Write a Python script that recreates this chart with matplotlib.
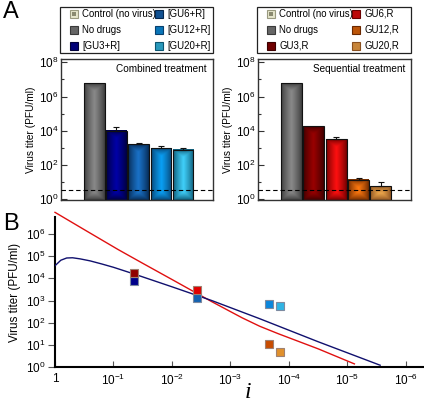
import numpy as np
import matplotlib
matplotlib.use("Agg")
import matplotlib.pyplot as plt
from matplotlib.lines import Line2D
from matplotlib.patches import Rectangle
from matplotlib.legend_handler import HandlerTuple
from matplotlib.colors import to_rgb

plt.rcParams['font.family'] = ['Liberation Sans', 'DejaVu Sans']
plt.rcParams['mathtext.fontset'] = 'custom'
plt.rcParams['mathtext.rm'] = 'Liberation Sans'
plt.rcParams['mathtext.it'] = 'Liberation Sans:italic'
plt.rcParams['mathtext.default'] = 'regular'

# ---------------- data ----------------
combined_labels = ['Control (no virus)', 'No drugs', '[GU3+R]', '[GU6+R]', '[GU12+R]', '[GU20+R]']
combined_values = [None, 6.0e6, 9.8e3, 1.66e3, 9.5e2, 7.6e2]
combined_err_top = [None, None, 1.6e4, 1.95e3, 1.26e3, 1.05e3]

sequential_labels = ['Control (no virus)', 'No drugs', 'GU3,R', 'GU6,R', 'GU12,R', 'GU20,R']
sequential_values = [None, 6.0e6, 1.8e4, 3.2e3, 13.5, 5.8]
sequential_err_top = [None, None, None, 4.6e3, 17.0, 10.7]

detection_limit = 3.4

combined_dark = ['#9a9a80', '#3a3a3a', '#00003a', '#06284f', '#08406e', '#0c5570']
combined_light = ['#e6e6cc', '#8a8a8a', '#0000a8', '#1a72c8', '#0aa0f5', '#40d0fa']
sequential_dark = ['#9a9a80', '#3a3a3a', '#3c0000', '#6a0000', '#6a2800', '#8a5020']
sequential_light = ['#e6e6cc', '#8a8a8a', '#9a0000', '#ff1010', '#ff7a10', '#f8b050']

# panel B: model curves
blue_i = [1.0, 10**-0.1, 10**-0.2, 10**-0.3, 10**-0.43, 10**-0.6, 10**-0.8, 10**-1.0,
          10**-1.35, 1e-2, 10**-2.68, 10**-3.5, 10**-4.5, 10**-5.56]
blue_titer = [10**4.57, 10**4.82, 10**4.92, 10**4.93, 10**4.88, 10**4.79, 10**4.65, 10**4.5,
              10**4.2, 10**3.62, 10**3.0, 10**2.18, 10**1.14, 10**0.08]
red_i = [1.0, 10**-0.5, 10**-1.08, 10**-1.5, 1e-2, 10**-2.68, 10**-3.2, 10**-3.5,
         10**-3.82, 10**-4.5, 10**-5.12]
red_titer = [10**6.98, 10**6.2, 10**5.3, 10**4.68, 10**3.95, 10**2.95, 10**2.22, 10**1.84,
             10**1.5, 10**0.82, 10**0.14]

# panel B: measured points
dose_i = [10**-1.35, 10**-2.43, 10**-3.66, 10**-3.84]
comb_points = [10**3.9, 10**3.11, 10**2.85, 10**2.75]
seq_points = [10**4.24, 10**3.46, 10**1.05, 10**0.68]
comb_point_colors = ['#00008a', '#1462b0', '#0a86dc', '#30b4e4']
seq_point_colors = ['#900000', '#e00000', '#c84c00', '#e0902c']

x_ticks_B = [1, 1e-1, 1e-2, 1e-3, 1e-4, 1e-5, 1e-6]
x_ticklabels_B = ['1', '$10^{-1}$', '$10^{-2}$', '$10^{-3}$', '$10^{-4}$', '$10^{-5}$', '$10^{-6}$']
y_ticks_B = [1, 1e1, 1e2, 1e3, 1e4, 1e5, 1e6]
y_ticklabels_B = ['$10^{0}$', '$10^{1}$', '$10^{2}$', '$10^{3}$', '$10^{4}$', '$10^{5}$', '$10^{6}$']
y_ticks_A = [1, 1e2, 1e4, 1e6, 1e8]
y_ticklabels_A = ['$10^{0}$', '$10^{2}$', '$10^{4}$', '$10^{6}$', '$10^{8}$']

W, H = 424, 404
fig = plt.figure(figsize=(W / 100, H / 100), dpi=100)


def fx(px):
    return px / W


def fy(py):
    return 1 - py / H


YMIN_A, YMAX_A = 10**-0.04, 10**8.19
XMIN_A, XMAX_A = -0.5, 6.35
BAR_W = 0.93


def bevel_image(nx, ny, dark, light):
    d = np.array(to_rgb(dark))
    l = np.array(to_rgb(light))
    xs = (np.arange(nx) + 0.5)
    ys = (np.arange(ny) + 0.5)
    X, Y = np.meshgrid(xs, ys)
    half = nx / 2.0
    dx = np.minimum(X, nx - X) / half
    dy = np.minimum(Y, ny - Y) / half
    t = np.clip(np.minimum(dx, dy * 1.3), 0, 1)
    t = t ** 0.8
    img = d[None, None, :] + (l - d)[None, None, :] * t[:, :, None]
    return img


def bar_panel(left_px, width_px, labels, values, err_top, dark, light, title):
    ax = fig.add_axes([fx(left_px), fy(200), fx(width_px), (200 - 59) / H])
    ax.set_yscale('log')
    ax.set_xlim(XMIN_A, XMAX_A)
    ax.set_ylim(YMIN_A, YMAX_A)
    trans = ax.transData + ax.transAxes.inverted()
    bbox = ax.get_window_extent()
    for k, v in enumerate(values):
        if v is None:
            continue
        x0, x1 = k - BAR_W / 2, k + BAR_W / 2
        (ax0, ay0) = trans.transform((x0, YMIN_A))
        (ax1, ay1) = trans.transform((x1, v))
        nx = max(int(round((ax1 - ax0) * bbox.width)), 2)
        ny = max(int(round((ay1 - ay0) * bbox.height)), 2)
        img = bevel_image(nx * 2, ny * 2, dark[k], light[k])
        ax.imshow(img, extent=(ax0, ax1, ay0, ay1), transform=ax.transAxes,
                  aspect='auto', interpolation='bilinear', zorder=2)
        ax.bar(k, v - YMIN_A, BAR_W, bottom=YMIN_A, facecolor='none',
               edgecolor='#111111', linewidth=0.8, zorder=3)
        if err_top[k] is not None:
            ax.errorbar(k, v, yerr=[[0], [err_top[k] - v]], fmt='none',
                        ecolor='#111111', elinewidth=0.8, capsize=2.2,
                        capthick=0.8, zorder=4)
    ax.axhline(detection_limit, color='black', linestyle=(0, (4, 2.6)),
               linewidth=0.8, zorder=5)
    ax.set_xlim(XMIN_A, XMAX_A)
    ax.set_ylim(YMIN_A, YMAX_A)
    ax.set_xticks([])
    ax.set_yticks(y_ticks_A, y_ticklabels_A)
    ax.set_yticks([1e1, 1e3, 1e5, 1e7], minor=True)
    ax.yaxis.set_minor_formatter(plt.NullFormatter())
    ax.tick_params(axis='y', which='major', direction='in', length=4, width=0.8,
                   labelsize=8.5, pad=2, color='#333333')
    ax.tick_params(axis='y', which='minor', direction='in', length=2.5, width=0.8,
                   color='#333333')
    for s in ax.spines.values():
        s.set_color('#333333')
        s.set_linewidth(1.0)
    ax.set_ylabel('Virus titer (PFU/ml)', fontsize=7.3, labelpad=2)
    ax.text(0.96, 0.93, title, transform=ax.transAxes, ha='right', va='center',
            fontsize=7.2)

    # legend: frame + two columns
    L = left_px - 1
    fig.add_artist(Rectangle((fx(L), fy(53)), fx(width_px + 1), (53 - 7) / H,
                             transform=fig.transFigure, facecolor='white',
                             edgecolor='#222222', linewidth=0.9))
    handles = []
    for k in range(len(labels)):
        if k == 0:
            outer = Line2D([], [], marker='s', ls='none', ms=5.8,
                           mfc=light[0], mec=dark[0], mew=0.8)
            inner = Line2D([], [], marker='s', ls='none', ms=2.3,
                           mfc='#8a8a70', mec='#8a8a70', mew=0)
            handles.append((outer, inner))
        else:
            mid = 0.45 * np.array(to_rgb(dark[k])) + 0.55 * np.array(to_rgb(light[k]))
            handles.append(Line2D([], [], marker='s', ls='none', ms=5.8,
                                  mfc=mid, mec=dark[k], mew=0.8))
    for col, off in ((0, 10), (1, 95)):
        hs = handles[col * 3:(col + 1) * 3]
        ls = labels[col * 3:(col + 1) * 3]
        leg = fig.legend(hs, ls, loc='upper left',
                         bbox_to_anchor=(fx(L + off), fy(9)),
                         bbox_transform=fig.transFigure,
                         ncol=1, fontsize=6.9, frameon=False,
                         handlelength=0.85, handletextpad=0.45,
                         labelspacing=0.62, borderpad=0.0, borderaxespad=0.0,
                         handler_map={tuple: HandlerTuple(ndivide=1, pad=0)})
        leg.set_zorder(10)
    return ax


axL = bar_panel(61, 152, combined_labels, combined_values, combined_err_top,
                combined_dark, combined_light, 'Combined treatment')
axR = bar_panel(258, 153, sequential_labels, sequential_values, sequential_err_top,
                sequential_dark, sequential_light, 'Sequential treatment')

# ---------------- panel B ----------------
axB = fig.add_axes([fx(55), fy(367), fx(424 - 55), (367 - 217) / H])
axB.set_xscale('log')
axB.set_yscale('log')
axB.plot(red_i, red_titer, color='#e01010', lw=1.0, clip_on=False, zorder=3)
axB.plot(blue_i, blue_titer, color='#10106e', lw=1.0, zorder=3)
for k in range(len(dose_i)):
    axB.plot(dose_i[k], comb_points[k], marker='s', ms=6.3, ls='none',
             mfc=comb_point_colors[k], mec='#7d8aa0', mew=0.8, zorder=4)
    axB.plot(dose_i[k], seq_points[k], marker='s', ms=6.3, ls='none',
             mfc=seq_point_colors[k], mec='#a08070', mew=0.8, zorder=5)
axB.set_xlim(1, 10**-6.31)
axB.set_ylim(1, 10**6.77)
axB.set_xticks(x_ticks_B, x_ticklabels_B)
axB.set_yticks(y_ticks_B, y_ticklabels_B)
axB.xaxis.set_minor_locator(plt.NullLocator())
axB.yaxis.set_minor_locator(plt.NullLocator())
axB.tick_params(axis='x', direction='in', length=4, width=0.8, labelsize=8.5, pad=4,
                color='#555555')
axB.tick_params(axis='y', direction='out', length=5, width=0.8, labelsize=8.5, pad=2,
                color='#555555')
axB.spines['top'].set_visible(False)
axB.spines['right'].set_visible(False)
axB.spines['left'].set_linewidth(1.5)
axB.spines['bottom'].set_linewidth(1.5)
axB.set_ylabel('Virus titer (PFU/ml)', fontsize=8.4, labelpad=3)
fig.text(fx(248), fy(392), 'i', fontsize=17, style='italic',
         family=['Liberation Serif', 'DejaVu Serif'], ha='center', va='center')

fig.text(fx(3), fy(12), 'A', fontsize=17, ha='left', va='center')
fig.text(fx(3), fy(224), 'B', fontsize=17, ha='left', va='center')

fig.savefig('out.png', dpi=100)
